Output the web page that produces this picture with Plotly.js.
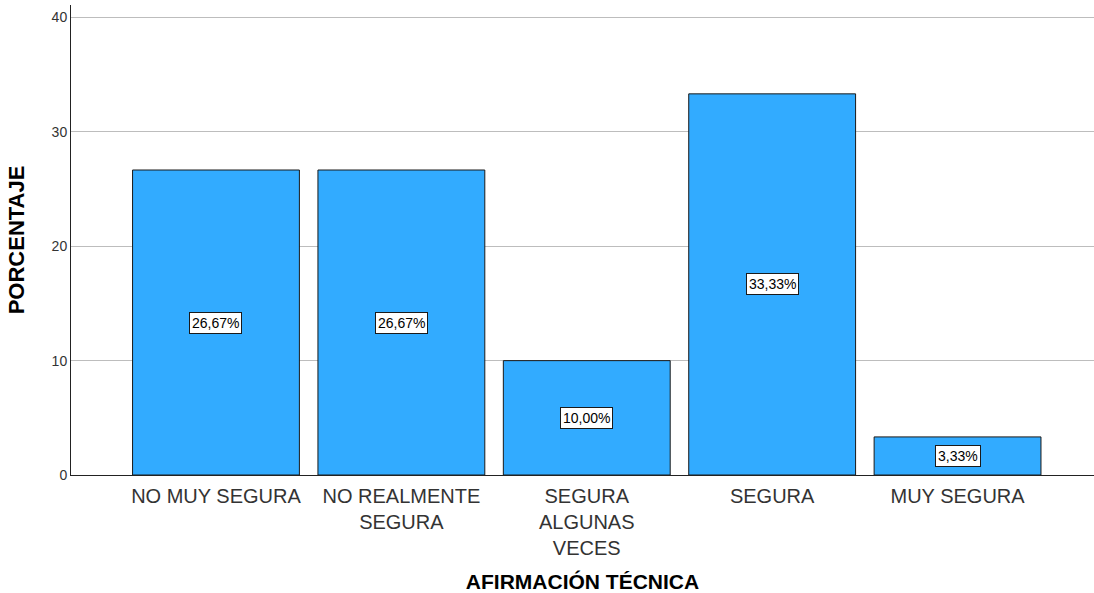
<!DOCTYPE html>
<html>
<head>
<meta charset="utf-8">
<script src="https://cdn.plot.ly/plotly-3.0.1.min.js"></script>
<style>html,body{margin:0;padding:0;background:#fff;}#chart{width:1094px;height:593px;}</style>
</head>
<body>
<div id="chart"></div>
<script>
var categories = ["NO MUY SEGURA", "NO REALMENTE<br>SEGURA", "SEGURA<br>ALGUNAS<br>VECES", "SEGURA", "MUY SEGURA"];
var percentages = [26.67, 26.67, 10.00, 33.33, 3.33];
var barLabels = ["26,67%", "26,67%", "10,00%", "33,33%", "3,33%"];
var yTicks = [0, 10, 20, 30, 40];

var trace = {
  type: "bar",
  x: categories,
  y: percentages,
  width: 0.9,
  marker: {color: "#32abff", line: {color: "#1a1a1a", width: 1}},
  hoverinfo: "none"
};

var annotations = categories.map(function(c, i) {
  return {
    x: c, y: percentages[i] / 2, xref: "x", yref: "y",
    text: barLabels[i], showarrow: false,
    font: {family: "Arial, Liberation Sans, sans-serif", size: 14, color: "#000"},
    bgcolor: "#ffffff", bordercolor: "#1a1a1a", borderwidth: 1, borderpad: 2
  };
});

var layout = {
  width: 1094, height: 593,
  margin: {l: 71, r: 0, t: 5, b: 118},
  paper_bgcolor: "#fff", plot_bgcolor: "#fff",
  showlegend: false,
  font: {family: "Arial, Liberation Sans, sans-serif", color: "#222"},
  xaxis: {
    type: "category",
    range: [-0.782, 4.736],
    showgrid: false, zeroline: false,
    showline: true, linecolor: "#222", linewidth: 1,
    ticks: "", ticklabelstandoff: 3, tickfont: {size: 20, color: "#333"},
    title: {text: "AFIRMACIÓN TÉCNICA", font: {size: 21, color: "#000", weight: "bold"}, standoff: 16}
  },
  yaxis: {
    range: [0, 41.1],
    tickvals: yTicks, ticktext: yTicks.map(String),
    showgrid: true, gridcolor: "#bdbdbd", gridwidth: 1,
    zeroline: false, showline: true, linecolor: "#222", linewidth: 1,
    ticks: "", tickfont: {size: 14, color: "#333"},
    title: {text: "PORCENTAJE", font: {size: 22, color: "#000", weight: "bold"}, standoff: 20}
  },
  annotations: annotations
};

Plotly.newPlot("chart", [trace], layout, {staticPlot: true, displayModeBar: false});
</script>
</body>
</html>
